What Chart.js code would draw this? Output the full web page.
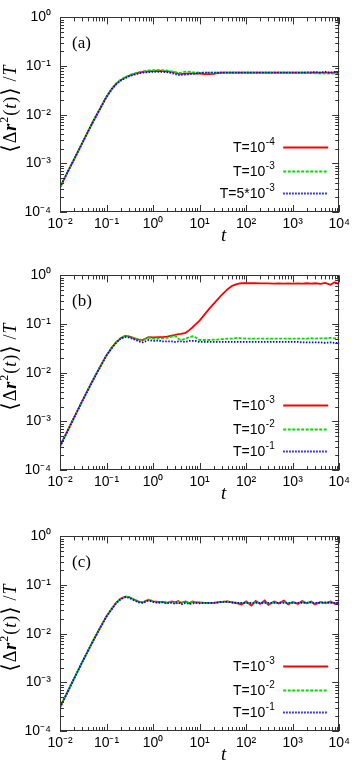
<!DOCTYPE html>
<html>
<head>
<meta charset="utf-8">
<script src="https://cdn.jsdelivr.net/npm/chart.js@4.4.1/dist/chart.umd.min.js"></script>
<style>
  html, body { margin: 0; padding: 0; background: #fff; }
  .panel { position: absolute; left: 0; width: 354px; height: 245px; }
</style>
</head>
<body>
<div class="panel" style="top:0px"><canvas id="chartA" width="354" height="245"></canvas></div>
<div class="panel" style="top:258px"><canvas id="chartB" width="354" height="245"></canvas></div>
<div class="panel" style="top:519px"><canvas id="chartC" width="354" height="245"></canvas></div>
<script>
// time points (shared by all curves)
const TIME = [0.01, 0.015, 0.02, 0.03, 0.05, 0.07, 0.1, 0.13, 0.16, 0.2,
  0.25, 0.3, 0.4, 0.5, 0.6, 0.8, 1, 1.3, 1.6, 2,
  2.5, 3, 3.5, 4, 5, 6, 7, 8, 10, 13,
  16, 20, 25, 30, 40, 50, 65, 80, 100, 130,
  160, 200, 250, 300, 400, 500, 650, 800, 1000, 1300,
  1600, 2000, 2500, 3000, 4000, 5000, 6500, 8000, 10000];

// panel (a)
const A_RED = [0.00032, 0.0007, 0.0012, 0.0026, 0.0069, 0.0125, 0.0235, 0.034, 0.043, 0.051,
  0.058, 0.063, 0.069, 0.073, 0.076, 0.078, 0.079, 0.080, 0.079, 0.078,
  0.076, 0.073, 0.070, 0.069, 0.070, 0.071, 0.071, 0.070, 0.070, 0.068,
  0.068, 0.069, 0.072, 0.073, 0.073, 0.073, 0.073, 0.073, 0.073, 0.073,
  0.073, 0.073, 0.073, 0.073, 0.073, 0.073, 0.073, 0.073, 0.073, 0.073,
  0.073, 0.073, 0.073, 0.073, 0.073, 0.073, 0.073, 0.073, 0.073];
const A_GREEN = [0.00032, 0.0007, 0.0012, 0.0026, 0.0069, 0.0125, 0.0236, 0.0345, 0.044, 0.052,
  0.059, 0.064, 0.071, 0.075, 0.078, 0.081, 0.082, 0.083, 0.082, 0.081,
  0.078, 0.075, 0.072, 0.073, 0.077, 0.077, 0.075, 0.074, 0.073, 0.073,
  0.073, 0.073, 0.073, 0.073, 0.073, 0.073, 0.073, 0.073, 0.073, 0.073,
  0.073, 0.073, 0.073, 0.073, 0.073, 0.073, 0.073, 0.073, 0.073, 0.073,
  0.073, 0.072, 0.072, 0.071, 0.071, 0.070, 0.071, 0.070, 0.071];
const A_BLUE = [0.00032, 0.0007, 0.0012, 0.0026, 0.0068, 0.0124, 0.0232, 0.0335, 0.042, 0.050,
  0.056, 0.061, 0.067, 0.071, 0.073, 0.075, 0.076, 0.076, 0.076, 0.075,
  0.072, 0.068, 0.066, 0.066, 0.067, 0.068, 0.069, 0.070, 0.072, 0.073,
  0.073, 0.073, 0.073, 0.073, 0.073, 0.073, 0.073, 0.073, 0.073, 0.073,
  0.073, 0.073, 0.073, 0.073, 0.073, 0.073, 0.073, 0.073, 0.073, 0.073,
  0.073, 0.074, 0.074, 0.075, 0.073, 0.076, 0.073, 0.076, 0.074];

// panel (b)
const B_RED = [0.00031, 0.00068, 0.00119, 0.0026, 0.0068, 0.0124, 0.023, 0.033, 0.042, 0.051,
  0.057, 0.056, 0.051, 0.048, 0.047, 0.054, 0.053, 0.054, 0.054, 0.055,
  0.058, 0.060, 0.062, 0.063, 0.066, 0.075, 0.085, 0.096, 0.118, 0.160,
  0.205, 0.260, 0.330, 0.400, 0.520, 0.610, 0.670, 0.690, 0.690, 0.690,
  0.690, 0.685, 0.685, 0.685, 0.680, 0.685, 0.680, 0.685, 0.680, 0.685,
  0.680, 0.690, 0.675, 0.690, 0.670, 0.700, 0.640, 0.720, 0.660];
const B_GREEN = [0.00031, 0.00068, 0.00119, 0.0026, 0.0068, 0.0124, 0.023, 0.033, 0.042, 0.051,
  0.057, 0.056, 0.051, 0.048, 0.047, 0.053, 0.050, 0.051, 0.051, 0.052,
  0.055, 0.057, 0.050, 0.047, 0.050, 0.054, 0.056, 0.054, 0.047, 0.047,
  0.047, 0.048, 0.048, 0.049, 0.050, 0.050, 0.052, 0.051, 0.050, 0.050,
  0.050, 0.050, 0.050, 0.050, 0.050, 0.050, 0.050, 0.050, 0.050, 0.050,
  0.050, 0.050, 0.051, 0.050, 0.051, 0.051, 0.052, 0.051, 0.052];
const B_BLUE = [0.0003, 0.00067, 0.00118, 0.0026, 0.0067, 0.0122, 0.0225, 0.032, 0.041, 0.050,
  0.054, 0.053, 0.048, 0.044, 0.042, 0.047, 0.045, 0.046, 0.044, 0.044,
  0.044, 0.043, 0.044, 0.044, 0.043, 0.045, 0.045, 0.045, 0.043, 0.043,
  0.043, 0.043, 0.043, 0.043, 0.043, 0.043, 0.043, 0.043, 0.043, 0.043,
  0.043, 0.043, 0.043, 0.043, 0.043, 0.043, 0.043, 0.043, 0.043, 0.043,
  0.042, 0.042, 0.042, 0.042, 0.042, 0.041, 0.042, 0.041, 0.041];

// panel (c)
const C_RED = [0.00031, 0.00068, 0.00119, 0.0026, 0.0068, 0.0124, 0.023, 0.033, 0.043, 0.052,
  0.058, 0.057, 0.050, 0.045, 0.044, 0.050, 0.046, 0.045, 0.045, 0.043,
  0.046, 0.044, 0.047, 0.043, 0.046, 0.042, 0.046, 0.044, 0.044, 0.043,
  0.043, 0.043, 0.044, 0.045, 0.046, 0.044, 0.042, 0.040, 0.046, 0.038,
  0.047, 0.041, 0.048, 0.039, 0.046, 0.042, 0.048, 0.040, 0.045, 0.041,
  0.047, 0.042, 0.046, 0.040, 0.045, 0.042, 0.046, 0.041, 0.044];
const C_GREEN = [0.00031, 0.00068, 0.00119, 0.0026, 0.0068, 0.0124, 0.023, 0.033, 0.043, 0.052,
  0.058, 0.057, 0.050, 0.045, 0.044, 0.050, 0.046, 0.044, 0.045, 0.044,
  0.045, 0.043, 0.046, 0.044, 0.045, 0.043, 0.045, 0.044, 0.043, 0.043,
  0.043, 0.043, 0.044, 0.045, 0.046, 0.044, 0.043, 0.043, 0.044, 0.042,
  0.044, 0.043, 0.044, 0.042, 0.044, 0.043, 0.045, 0.042, 0.044, 0.043,
  0.044, 0.043, 0.044, 0.042, 0.044, 0.043, 0.044, 0.043, 0.043];
const C_BLUE = [0.0003, 0.00067, 0.00118, 0.0026, 0.0067, 0.0122, 0.0225, 0.032, 0.042, 0.051,
  0.056, 0.055, 0.048, 0.044, 0.043, 0.048, 0.045, 0.043, 0.044, 0.042,
  0.043, 0.041, 0.044, 0.040, 0.043, 0.041, 0.042, 0.043, 0.042, 0.043,
  0.043, 0.043, 0.044, 0.045, 0.045, 0.044, 0.043, 0.043, 0.043, 0.043,
  0.043, 0.043, 0.043, 0.043, 0.043, 0.043, 0.043, 0.043, 0.043, 0.043,
  0.043, 0.043, 0.044, 0.043, 0.043, 0.044, 0.043, 0.043, 0.043];

// axes
const X_DECADES = [-2, -1, 0, 1, 2, 3, 4];
const Y_DECADES = [-4, -3, -2, -1, 0];
const MINOR_STEPS = [2, 3, 4, 5, 6, 7, 8, 9];

// legends: [text, superscript]
const LEGEND_A = [["T=10", "-4"], ["T=10", "-3"], ["T=5*10", "-3"]];
const LEGEND_BC = [["T=10", "-3"], ["T=10", "-2"], ["T=10", "-1"]];

const COLORS = ["#ff0000", "#00dd00", "#0000ff"];
const DASHES = [[], [3, 1.5], [1.5, 1.5]];

const SUP = { "-": "\u207B", "0": "\u2070", "1": "\u00B9", "2": "\u00B2", "3": "\u00B3", "4": "\u2074" };
const SANS = "'Liberation Sans', Arial, sans-serif";
const SERIF = "'Liberation Serif', 'DejaVu Serif', serif";

function logTicks(decades) {
  const ticks = [];
  decades.forEach((d, i) => {
    ticks.push({ value: Math.pow(10, d) });
    if (i < decades.length - 1) {
      MINOR_STEPS.forEach((k) => ticks.push({ value: k * Math.pow(10, d) }));
    }
  });
  return ticks;
}

function isDecade(v) {
  const l = Math.log10(v);
  return Math.abs(l - Math.round(l)) < 1e-6;
}

function powLabel(v) {
  if (!isDecade(v)) return "";
  const e = String(Math.round(Math.log10(v)));
  return "10" + e.split("").map((c) => SUP[c]).join("");
}

// inward ticks on all four sides, frame, legend, panel label, axis titles
const framePlugin = {
  id: "frame",
  afterDatasetsDraw(chart, args, opts) {
    const { ctx, chartArea: a } = chart;
    const xs = chart.scales.x;
    const ys = chart.scales.y;
    ctx.save();
    ctx.strokeStyle = "#333";
    ctx.lineWidth = 1;
    ctx.setLineDash([]);
    ctx.beginPath();
    xs.ticks.forEach((t) => {
      const px = Math.round(xs.getPixelForValue(t.value)) + 0.5;
      const len = isDecade(t.value) ? 7 : 4;
      ctx.moveTo(px, a.bottom);
      ctx.lineTo(px, a.bottom - len);
      ctx.moveTo(px, a.top);
      ctx.lineTo(px, a.top + len);
    });
    ys.ticks.forEach((t) => {
      const py = Math.round(ys.getPixelForValue(t.value)) + 0.5;
      const len = isDecade(t.value) ? 7 : 4;
      ctx.moveTo(a.left, py);
      ctx.lineTo(a.left + len, py);
      ctx.moveTo(a.right, py);
      ctx.lineTo(a.right - len, py);
    });
    ctx.stroke();
    ctx.strokeRect(Math.round(a.left) + 0.5, Math.round(a.top) + 0.5,
      Math.round(a.width) - 1, Math.round(a.height) - 1);

    // legend
    const rows = [65, 41, 19];
    opts.legend.forEach((item, i) => {
      const y = a.bottom - rows[i];
      ctx.font = "14px " + SANS;
      const w1 = ctx.measureText(item[0]).width;
      ctx.font = "10px " + SANS;
      const w2 = ctx.measureText(item[1]).width;
      const x0 = a.right - 65 - w1 - w2;
      ctx.fillStyle = "#000";
      ctx.textBaseline = "middle";
      ctx.textAlign = "left";
      ctx.font = "14px " + SANS;
      ctx.fillText(item[0], x0, y + 1);
      ctx.font = "10px " + SANS;
      ctx.fillText(item[1], x0 + w1 + 0.5, y - 5);
      ctx.strokeStyle = COLORS[i];
      ctx.lineWidth = 1.8;
      ctx.setLineDash(DASHES[i]);
      ctx.beginPath();
      ctx.moveTo(a.right - 56, y + 0.5);
      ctx.lineTo(a.right - 11, y + 0.5);
      ctx.stroke();
    });
    ctx.setLineDash([]);

    // panel label
    ctx.fillStyle = "#000";
    ctx.font = "17px " + SERIF;
    ctx.textAlign = "left";
    ctx.textBaseline = "middle";
    ctx.fillText(opts.label, a.left + 12, a.top + 26);

    // x title
    ctx.font = "italic 19px " + SERIF;
    ctx.textAlign = "center";
    ctx.fillText("t", a.left + a.width / 2 + 24, a.bottom + 24);

    // y title, rotated
    const parts = [
      ["\u27E8", "22px " + SERIF, 0],
      ["\u0394", "18px " + SERIF, 0],
      ["r", "bold italic 18px " + SERIF, 0],
      ["2", "12px " + SERIF, -6],
      ["(", "18px " + SERIF, 0],
      ["t", "italic 18px " + SERIF, 0],
      [")", "18px " + SERIF, 0],
      ["\u27E9", "22px " + SERIF, 0],
      [" /", "18px " + SERIF, 0],
      ["T", "italic 18px " + SERIF, 0],
    ];
    let total = 0;
    parts.forEach((p) => { ctx.font = p[1]; total += ctx.measureText(p[0]).width + 1; });
    ctx.translate(11, a.top + a.height / 2 - 6);
    ctx.rotate(-Math.PI / 2);
    ctx.textAlign = "left";
    let cx = -total / 2;
    parts.forEach((p) => {
      ctx.font = p[1];
      ctx.fillText(p[0], cx, p[2]);
      cx += ctx.measureText(p[0]).width + 1;
    });
    ctx.restore();
  },
};

function makeChart(id, series, legend, label) {
  return new Chart(document.getElementById(id), {
    type: "line",
    data: {
      datasets: series.map((vals, i) => ({
        data: TIME.map((t, k) => ({ x: t, y: vals[k] })),
        borderColor: COLORS[i],
        borderWidth: 1.8,
        borderDash: DASHES[i],
        pointRadius: 0,
        tension: 0,
        fill: false,
        order: 3 - i,
      })),
    },
    options: {
      responsive: false,
      animation: false,
      events: [],
      layout: { padding: { top: 9, right: 11, left: 0, bottom: 0 } },
      plugins: {
        legend: { display: false },
        tooltip: { enabled: false },
        frame: { legend, label },
      },
      scales: {
        x: {
          type: "logarithmic",
          min: 0.01,
          max: 10000,
          grid: { display: false, drawTicks: false },
          border: { display: false },
          afterBuildTicks: (s) => { s.ticks = logTicks(X_DECADES); },
          afterFit: (s) => { s.height = 33; },
          ticks: {
            autoSkip: false, maxRotation: 0, padding: 4, color: "#000",
            font: { family: SANS, size: 14 },
            callback: (v) => powLabel(v),
          },
        },
        y: {
          type: "logarithmic",
          min: 0.0001,
          max: 1,
          grid: { display: false, drawTicks: false },
          border: { display: false },
          afterBuildTicks: (s) => { s.ticks = logTicks(Y_DECADES); },
          afterFit: (s) => { s.width = 60; },
          ticks: {
            autoSkip: false, padding: 9, color: "#000",
            font: { family: SANS, size: 14 },
            callback: (v) => powLabel(v),
          },
        },
      },
    },
    plugins: [framePlugin],
  });
}

makeChart("chartA", [A_RED, A_GREEN, A_BLUE], LEGEND_A, "(a)");
makeChart("chartB", [B_RED, B_GREEN, B_BLUE], LEGEND_BC, "(b)");
makeChart("chartC", [C_RED, C_GREEN, C_BLUE], LEGEND_BC, "(c)");
</script>
</body>
</html>
